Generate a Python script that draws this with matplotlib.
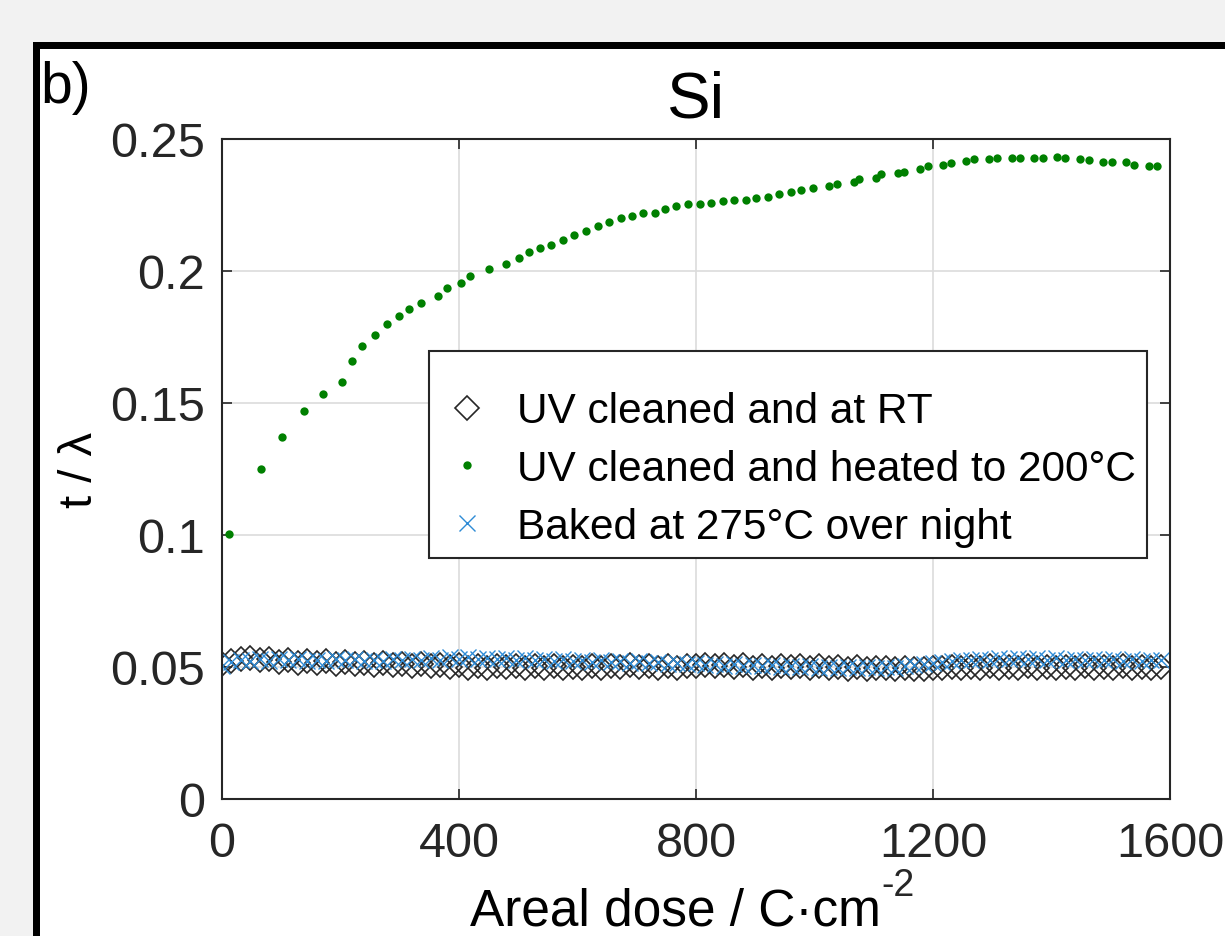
import matplotlib
matplotlib.use("Agg")
import matplotlib.pyplot as plt
from matplotlib.patches import Rectangle

# --- data ---
dose = [0, 16, 32, 48, 64, 80, 96, 112, 128, 144,
        160, 176, 192, 208, 224, 240, 256, 272, 288, 304,
        320, 336, 352, 368, 384, 400, 416, 432, 448, 464,
        480, 496, 512, 528, 544, 560, 576, 592, 608, 624,
        640, 656, 672, 688, 704, 720, 736, 752, 768, 784,
        800, 816, 832, 848, 864, 880, 896, 912, 928, 944,
        960, 976, 992, 1008, 1024, 1040, 1056, 1072, 1088, 1104,
        1120, 1136, 1152, 1168, 1184, 1200, 1216, 1232, 1248, 1264,
        1280, 1296, 1312, 1328, 1344, 1360, 1376, 1392, 1408, 1424,
        1440, 1456, 1472, 1488, 1504, 1520, 1536, 1552, 1568, 1584]

t_rt = [0.0510, 0.0522, 0.0530, 0.0534, 0.0528, 0.0531, 0.0520, 0.0526, 0.0517, 0.0523,
        0.0515, 0.0521, 0.0512, 0.0518, 0.0510, 0.0516, 0.0508, 0.0514, 0.0506, 0.0512,
        0.0504, 0.0511, 0.0503, 0.0509, 0.0500, 0.0507, 0.0498, 0.0505, 0.0497, 0.0503,
        0.0499, 0.0505, 0.0496, 0.0502, 0.0498, 0.0504, 0.0495, 0.0501, 0.0497, 0.0503,
        0.0498, 0.0504, 0.0499, 0.0506, 0.0500, 0.0505, 0.0498, 0.0503, 0.0497, 0.0502,
        0.0504, 0.0509, 0.0502, 0.0507, 0.0500, 0.0506, 0.0498, 0.0504, 0.0497, 0.0502,
        0.0499, 0.0504, 0.0496, 0.0502, 0.0495, 0.0500, 0.0494, 0.0499, 0.0493, 0.0498,
        0.0495, 0.0492, 0.0497, 0.0491, 0.0494, 0.0498, 0.0496, 0.0500, 0.0497, 0.0501,
        0.0498, 0.0503, 0.0497, 0.0501, 0.0496, 0.0502, 0.0498, 0.0500, 0.0495, 0.0501,
        0.0497, 0.0502, 0.0496, 0.0500, 0.0498, 0.0503, 0.0495, 0.0500, 0.0497, 0.0499]

t_baked = [0.0505, 0.0518, 0.0527, 0.0522, 0.0530, 0.0524, 0.0531, 0.0526, 0.0529, 0.0523,
           0.0528, 0.0522, 0.0530, 0.0525, 0.0529, 0.0521, 0.0527, 0.0524, 0.0530, 0.0526,
           0.0531, 0.0525, 0.0533, 0.0528, 0.0536, 0.0530, 0.0538, 0.0532, 0.0535, 0.0529,
           0.0534, 0.0528, 0.0533, 0.0526, 0.0531, 0.0524, 0.0529, 0.0522, 0.0527, 0.0520,
           0.0525, 0.0518, 0.0523, 0.0516, 0.0521, 0.0514, 0.0519, 0.0512, 0.0517, 0.0510,
           0.0515, 0.0508, 0.0512, 0.0505, 0.0510, 0.0503, 0.0508, 0.0502, 0.0506, 0.0500,
           0.0504, 0.0499, 0.0503, 0.0497, 0.0501, 0.0496, 0.0500, 0.0495, 0.0499, 0.0497,
           0.0501, 0.0498, 0.0504, 0.0507, 0.0511, 0.0515, 0.0519, 0.0522, 0.0525, 0.0528,
           0.0530, 0.0527, 0.0533, 0.0529, 0.0535, 0.0530, 0.0534, 0.0528, 0.0533, 0.0527,
           0.0532, 0.0526, 0.0531, 0.0525, 0.0530, 0.0524, 0.0529, 0.0523, 0.0528, 0.0525]

dose_heated = [11, 65, 102, 139, 171, 203, 220, 236, 259, 278,
               298, 315, 336, 364, 379, 404, 418, 450, 480, 501,
               518, 537, 555, 576, 594, 614, 634, 653, 673, 692,
               711, 730, 748, 767, 786, 806, 825, 845, 864, 884,
               902, 921, 940, 960, 978, 997, 1025, 1038, 1066, 1075,
               1103, 1113, 1141, 1151, 1178, 1191, 1217, 1230, 1256, 1269,
               1295, 1308, 1333, 1347, 1370, 1385, 1409, 1423, 1448, 1463,
               1487, 1502, 1526, 1539, 1564, 1578]
t_heated = [0.1004, 0.1250, 0.1370, 0.1470, 0.1535, 0.1580, 0.1660, 0.1715, 0.1758, 0.1800,
            0.1830, 0.1857, 0.1880, 0.1904, 0.1934, 0.1956, 0.1982, 0.2006, 0.2028, 0.2049,
            0.2071, 0.2087, 0.2100, 0.2119, 0.2137, 0.2152, 0.2172, 0.2186, 0.2200, 0.2210,
            0.2219, 0.2221, 0.2235, 0.2245, 0.2254, 0.2253, 0.2259, 0.2264, 0.2269, 0.2269,
            0.2277, 0.2279, 0.2292, 0.2301, 0.2306, 0.2314, 0.2323, 0.2328, 0.2338, 0.2347,
            0.2353, 0.2366, 0.2372, 0.2375, 0.2385, 0.2396, 0.2400, 0.2409, 0.2417, 0.2423,
            0.2423, 0.2428, 0.2429, 0.2429, 0.2429, 0.2429, 0.2430, 0.2428, 0.2425, 0.2419,
            0.2413, 0.2413, 0.2413, 0.2403, 0.2399, 0.2399]

xticks = [0, 400, 800, 1200, 1600]
yticks = [0, 0.05, 0.1, 0.15, 0.2, 0.25]
ytick_labels = ["0", "0.05", "0.1", "0.15", "0.2", "0.25"]

plt.rcParams['font.family'] = ['Liberation Sans', 'DejaVu Sans']

fig = plt.figure(figsize=(12.25, 9.37), dpi=100, facecolor='#f2f2f2')

# screenshot panel: black frame with white inside, running off right/bottom
W, H = 1225.0, 937.0
fig.patches.append(Rectangle((33 / W, -0.1), 1.2, (H - 43) / H + 0.1,
                             transform=fig.transFigure, facecolor='black',
                             edgecolor='none', zorder=-2))
fig.patches.append(Rectangle((40 / W, -0.1), 1.2, (H - 50) / H + 0.1,
                             transform=fig.transFigure, facecolor='white',
                             edgecolor='none', zorder=-1))

ax = fig.add_axes([222 / W, (H - 800) / H, 948 / W, 660 / H])
ax.set_facecolor('white')

ax.plot(dose, t_rt, linestyle='none', marker='D', markersize=12.5,
        markerfacecolor='none', markeredgecolor='#262626', markeredgewidth=1.2,
        label='UV cleaned and at RT')
ax.plot(dose_heated, t_heated, linestyle='none', marker='o', markersize=6,
        color='#008000', markeredgewidth=0, label='UV cleaned and heated to 200°C')
ax.plot(dose, t_baked, linestyle='none', marker='x', markersize=11,
        color='#2e8bd6', markeredgewidth=1.0, label='Baked at 275°C over night')

ax.set_xlim(0, 1600)
ax.set_ylim(0, 0.25)
ax.set_xticks(xticks)
ax.set_yticks(yticks)
ax.set_yticklabels(ytick_labels)
ax.grid(True, color='#dcdcdc', linewidth=1.2)
ax.set_axisbelow(True)
for s in ax.spines.values():
    s.set_color('#262626')
    s.set_linewidth(1.5)
ax.tick_params(direction='in', length=7, width=1.2, color='#262626',
               labelsize=35, labelcolor='#262626', top=True, right=True)
ax.tick_params(axis='x', pad=16)
ax.tick_params(axis='y', pad=12)

ax.set_title('Si', fontsize=47, pad=16)
ax.set_ylabel('t / λ', fontsize=34, labelpad=6)
ax.set_xlabel('Areal dose / C·cm', fontsize=37)
ax.xaxis.set_label_coords(0.478, -0.133)

fig.text(40 / W, (H - 88) / H, 'b)', fontsize=41, va='center', ha='left')

leg = ax.legend(loc='upper right', bbox_to_anchor=(0.9757, 0.6788), fontsize=30.5,
                frameon=True, fancybox=False, framealpha=1, edgecolor='#262626',
                handletextpad=0.55, borderpad=0.25, labelspacing=0.42,
                handlelength=1.3, markerscale=1.0, borderaxespad=0,
                title=' ', title_fontsize=9)
leg.get_frame().set_linewidth(1.5)

# superscript "-2" written with a hyphen, as in the original
fig.canvas.draw()
bb = ax.xaxis.label.get_window_extent()
fig.text(bb.x1 / W + 0.001, (bb.y1 + 2) / H, '-2', fontsize=27, va='center',
         ha='left', color='#262626')

plt.savefig('out.png', dpi=100, facecolor=fig.get_facecolor())
